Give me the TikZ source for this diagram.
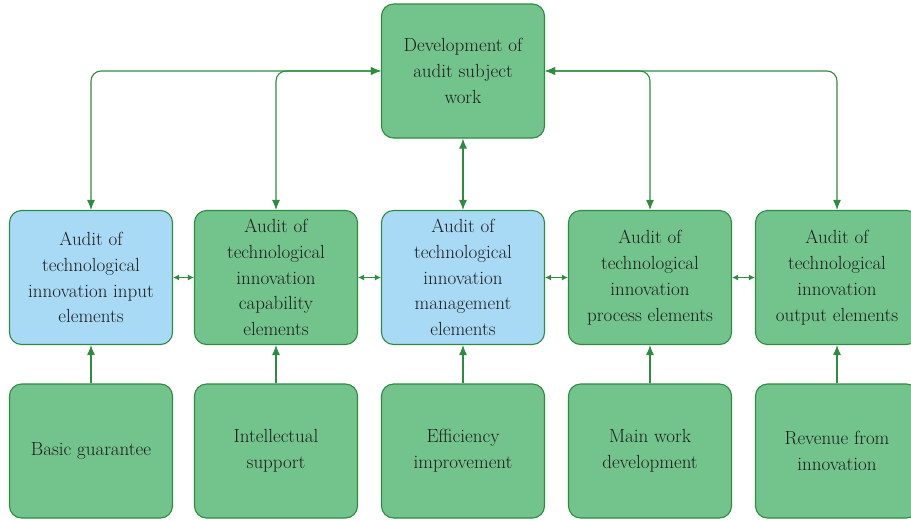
\documentclass[tikz,border=0pt]{standalone}
\usetikzlibrary{arrows.meta,positioning}
\definecolor{boxgreen}{RGB}{114,195,140}
\definecolor{boxblue}{RGB}{168,218,245}
\definecolor{linegreen}{RGB}{46,139,64}
\definecolor{inkgray}{RGB}{30,28,28}
\begin{document}
\begin{tikzpicture}[x=1pt,y=-1pt,
  box/.style={draw=linegreen,line width=1.1pt,rounded corners=12pt,
    minimum width=163pt,minimum height=134pt,align=center,
    text=inkgray,font=\fontsize{19}{25.8}\selectfont},
  gbox/.style={box,fill=boxgreen},
  bbox/.style={box,fill=boxblue},
  link/.style={draw=linegreen,line width=1.1pt,rounded corners=10pt,
    {Latex[length=10pt,width=8pt]}-{Latex[length=10pt,width=8pt]}},
  uplink/.style={draw=linegreen,line width=1.1pt,-{Latex[length=10pt,width=8pt]}},
  pair/.style={draw=linegreen,line width=1.1pt,
    {Latex[length=6pt,width=6pt]}-{Latex[length=6pt,width=6pt]}}]
\useasboundingbox (0,0) rectangle (911,520);

\node[gbox] (dev) at (463,71) {Development of\\audit subject\\work};

\node[bbox] (in)   at (91,277.5)  {Audit of\\technological\\innovation input\\elements};
\node[gbox] (cap)  at (276,277.5) {Audit of\\technological\\innovation\\capability\\elements};
\node[bbox] (mgmt) at (463,277.5) {Audit of\\technological\\innovation\\management\\elements};
\node[gbox] (proc) at (650,277.5) {Audit of\\technological\\innovation\\process elements};
\node[gbox] (out)  at (837,277.5) {Audit of\\technological\\innovation\\output elements};

\node[gbox] (basic) at (91,451)  {Basic guarantee};
\node[gbox] (intel) at (276,451) {Intellectual\\support};
\node[gbox] (eff)   at (463,451) {Efficiency\\improvement};
\node[gbox] (mainw) at (650,451) {Main work\\development};
\node[gbox] (rev)   at (837,451) {Revenue from\\innovation};

\draw[link] (in.north) |- (dev.west);
\draw[link] (cap.north) |- (dev.west);
\draw[link] (proc.north) |- (dev.east);
\draw[link] (out.north) |- (dev.east);
\draw[link] (mgmt.north) -- (dev.south);

\draw[pair] (in.east) -- (cap.west);
\draw[pair] (cap.east) -- (mgmt.west);
\draw[pair] (mgmt.east) -- (proc.west);
\draw[pair] (proc.east) -- (out.west);

\draw[uplink] (basic) -- (in);
\draw[uplink] (intel) -- (cap);
\draw[uplink] (eff) -- (mgmt);
\draw[uplink] (mainw) -- (proc);
\draw[uplink] (rev) -- (out);
\end{tikzpicture}
\end{document}
